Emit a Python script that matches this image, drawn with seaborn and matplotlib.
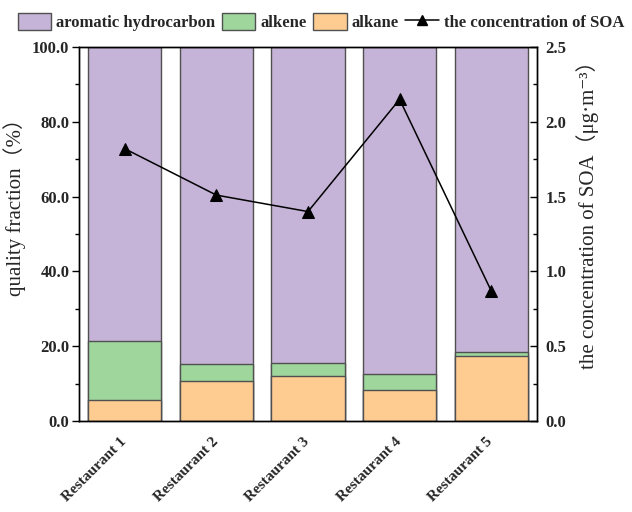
import matplotlib
matplotlib.use("Agg")
import matplotlib.pyplot as plt
import matplotlib.transforms as mtransforms
import seaborn as sns
import pandas as pd
import numpy as np
from matplotlib.lines import Line2D
from matplotlib.patches import Patch
from matplotlib.ticker import MultipleLocator, FormatStrFormatter

sns.set_theme(style="white")
FAM = ['Liberation Serif', 'Noto Sans CJK SC', 'DejaVu Sans']
plt.rcParams['font.family'] = FAM

restaurants = ["Restaurant 1", "Restaurant 2", "Restaurant 3", "Restaurant 4", "Restaurant 5"]
alkane = [5.6, 10.6, 12.0, 8.2, 17.5]
alkene = [15.7, 4.7, 3.5, 4.4, 0.9]
aromatic = [78.7, 84.7, 84.5, 87.4, 81.6]
soa = [1.82, 1.51, 1.40, 2.15, 0.87]

c_arom = "#C5B3D8"
c_alkene = "#9ED69C"
c_alkane = "#FECC91"
edge = "#505050"

df = pd.DataFrame({"restaurant": restaurants, "alkane": alkane,
                   "alkene": alkene, "aromatic": aromatic, "soa": soa})
df["top_alkene"] = df["alkane"] + df["alkene"]
df["top_arom"] = df["top_alkene"] + df["aromatic"]

fig = plt.figure(figsize=(6.32, 5.12), dpi=100)
ax = fig.add_axes([0.125, 0.1777, 0.7247, 0.7305])

kw = dict(ax=ax, width=0.8, edgecolor=edge, linewidth=1.0, saturation=1)
sns.barplot(data=df, x="restaurant", y="top_arom", color=c_arom, **kw)
sns.barplot(data=df, x="restaurant", y="top_alkene", color=c_alkene, **kw)
sns.barplot(data=df, x="restaurant", y="alkane", color=c_alkane, **kw)

ax.set_xlim(-0.5, 4.5)
ax.set_ylim(0, 100)
ax.yaxis.set_major_locator(MultipleLocator(20))
ax.yaxis.set_minor_locator(MultipleLocator(10))
ax.yaxis.set_major_formatter(FormatStrFormatter("%.1f"))
ax.tick_params(axis='y', which='major', direction='out', length=5, width=1, left=True, color='black', pad=2)
ax.tick_params(axis='y', which='minor', direction='out', length=3, width=1, left=True, color='black')
ax.tick_params(axis='x', bottom=False, pad=1)
ax.set_xlabel("")
ax.set_ylabel("quality fraction（%）", fontsize=15)
ax.yaxis.set_label_coords(-0.115, 0.585)
for lab in ax.get_yticklabels():
    lab.set_fontweight('bold'); lab.set_fontsize(12)
ax.set_xticks(range(len(restaurants)))
ax.set_xticklabels(restaurants, rotation=45, ha='right', rotation_mode='anchor',
                   fontweight='bold', fontsize=11)
offset = mtransforms.ScaledTranslation(-5 / 100, -4 / 100, fig.dpi_scale_trans)
for lab in ax.get_xticklabels():
    lab.set_transform(lab.get_transform() + offset)
for s in ax.spines.values():
    s.set_color('black'); s.set_linewidth(1.0)

ax2 = ax.twinx()
sns.lineplot(data=df, x="restaurant", y="soa", ax=ax2, color='black', linewidth=1.1,
             marker='^', markersize=8, markeredgecolor='black', markerfacecolor='black')
ax2.set_ylim(0, 2.5)
ax2.set_xlim(-0.5, 4.5)
ax2.yaxis.set_major_locator(MultipleLocator(0.5))
ax2.yaxis.set_minor_locator(MultipleLocator(0.25))
ax2.yaxis.set_major_formatter(FormatStrFormatter("%.1f"))
ax2.tick_params(axis='y', which='major', direction='in', length=5, width=1, right=True, color='black', pad=6)
ax2.tick_params(axis='y', which='minor', direction='in', length=3, width=1, right=True, color='black')
for lab in ax2.get_yticklabels():
    lab.set_fontweight('bold'); lab.set_fontsize(12)
ax2.set_xlabel("")
ax2.set_ylabel("the concentration of SOA（μg·m⁻³）", fontsize=15)
ax2.yaxis.set_label_coords(1.085, 0.565)
for s in ax2.spines.values():
    s.set_color('black'); s.set_linewidth(1.0)

handles = [Patch(facecolor=c_arom, edgecolor=edge, linewidth=1),
           Patch(facecolor=c_alkene, edgecolor=edge, linewidth=1),
           Patch(facecolor=c_alkane, edgecolor=edge, linewidth=1),
           Line2D([0], [0], color='black', linewidth=1.1, marker='^', markersize=7)]
labels = ["aromatic hydrocarbon", "alkene", "alkane", "the concentration of SOA"]
fig.legend(handles, labels, loc='center', bbox_to_anchor=(0.508, 0.957), ncol=4, frameon=False,
           prop={'weight': 'bold', 'size': 12, 'family': ['Liberation Serif']},
           handlelength=2.0, handleheight=1.15, handletextpad=0.3, columnspacing=0.4)

fig.savefig("out.png", dpi=100)
